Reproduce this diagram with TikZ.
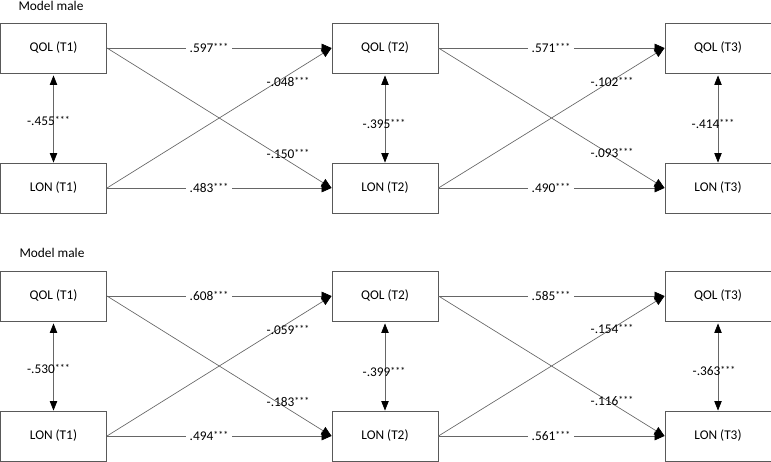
\documentclass[tikz,border=0pt]{standalone}
\usepackage{fontspec}
\setmainfont{Carlito}
\usetikzlibrary{arrows.meta}
\newcommand\coefv[1]{#1{\fontsize{7.5}{8}\selectfont\raisebox{2pt}{***}}}
\begin{document}
\begin{tikzpicture}[x=0.75pt,y=-0.75pt,
  box/.style={draw=black!65, line width=0.7pt, minimum width=79.5pt, minimum height=37.5pt, inner sep=0pt, font=\fontsize{10}{12}\selectfont},
  title/.style={inner sep=0pt, font=\fontsize{10}{12}\selectfont},
  arr/.style={draw=black!60, line width=0.5pt, -{Triangle[length=7.5pt,width=6.5pt,color=black]}},
  biarr/.style={draw=black!60, line width=0.5pt, {Triangle[length=7pt,width=5.5pt,color=black]}-{Triangle[length=7pt,width=5.5pt,color=black]}, shorten <=1.5pt},
  hlab/.style={fill=white, inner sep=2.5pt, font=\fontsize{10}{12}\selectfont},
  lab/.style={inner sep=0pt, font=\fontsize{10}{12}\selectfont}
]
\useasboundingbox (0,0) rectangle (771,461);
% ---------- top panel ----------
\node[title] (ta) at (51,6) {Model male};
\node[box] (aq1) at (53.5,48) {QOL (T1)};
\node[box] (al1) at (53.5,188) {LON (T1)};
\node[box] (aq2) at (385,48) {QOL (T2)};
\node[box] (al2) at (385,188) {LON (T2)};
\node[box] (aq3) at (718,48) {QOL (T3)};
\node[box] (al3) at (718,188) {LON (T3)};
\draw[arr] (aq1.east) -- (aq2.west);
\draw[arr] (al1.east) -- (al2.west);
\draw[arr] (aq1.east) -- (al2.west);
\draw[arr] (al1.east) -- (aq2.west);
\draw[arr] (aq2.east) -- (aq3.west);
\draw[arr] (al2.east) -- (al3.west);
\draw[arr] (aq2.east) -- (al3.west);
\draw[arr] (al2.east) -- (aq3.west);
\draw[biarr] (aq1) -- (al1);
\draw[biarr] (aq2) -- (al2);
\draw[biarr] (aq3) -- (al3);
\node[hlab] (a1) at (209,48) {\coefv{.597}};
\node[hlab] (a2) at (209,188) {\coefv{.483}};
\node[hlab] (a3) at (551,48) {\coefv{.571}};
\node[hlab] (a4) at (551,188) {\coefv{.490}};
\node[lab] (a5) at (288,82) {\coefv{-.048}};
\node[lab] (a6) at (288,154) {\coefv{-.150}};
\node[lab] (a7) at (612,82) {\coefv{-.102}};
\node[lab] (a8) at (612,153) {\coefv{-.093}};
\node[lab] (a9) at (48.5,121) {\coefv{-.455}};
\node[lab] (a10) at (384,124) {\coefv{-.395}};
\node[lab] (a11) at (713,124) {\coefv{-.414}};
% ---------- bottom panel ----------
\node[title] (tb) at (52,253) {Model male};
\node[box] (bq1) at (53.5,296) {QOL (T1)};
\node[box] (bl1) at (53.5,436) {LON (T1)};
\node[box] (bq2) at (385,296) {QOL (T2)};
\node[box] (bl2) at (385,436) {LON (T2)};
\node[box] (bq3) at (718,296) {QOL (T3)};
\node[box] (bl3) at (718,436) {LON (T3)};
\draw[arr] (bq1.east) -- (bq2.west);
\draw[arr] (bl1.east) -- (bl2.west);
\draw[arr] (bq1.east) -- (bl2.west);
\draw[arr] (bl1.east) -- (bq2.west);
\draw[arr] (bq2.east) -- (bq3.west);
\draw[arr] (bl2.east) -- (bl3.west);
\draw[arr] (bq2.east) -- (bl3.west);
\draw[arr] (bl2.east) -- (bq3.west);
\draw[biarr] (bq1) -- (bl1);
\draw[biarr] (bq2) -- (bl2);
\draw[biarr] (bq3) -- (bl3);
\node[hlab] (b1) at (209,296) {\coefv{.608}};
\node[hlab] (b2) at (209,436) {\coefv{.494}};
\node[hlab] (b3) at (551,296) {\coefv{.585}};
\node[hlab] (b4) at (551,436) {\coefv{.561}};
\node[lab] (b5) at (288,330) {\coefv{-.059}};
\node[lab] (b6) at (288,402) {\coefv{-.183}};
\node[lab] (b7) at (612,329) {\coefv{-.154}};
\node[lab] (b8) at (612,401) {\coefv{-.116}};
\node[lab] (b9) at (48.5,369) {\coefv{-.530}};
\node[lab] (b10) at (384,372) {\coefv{-.399}};
\node[lab] (b11) at (714,371) {\coefv{-.363}};
\end{tikzpicture}
\end{document}
